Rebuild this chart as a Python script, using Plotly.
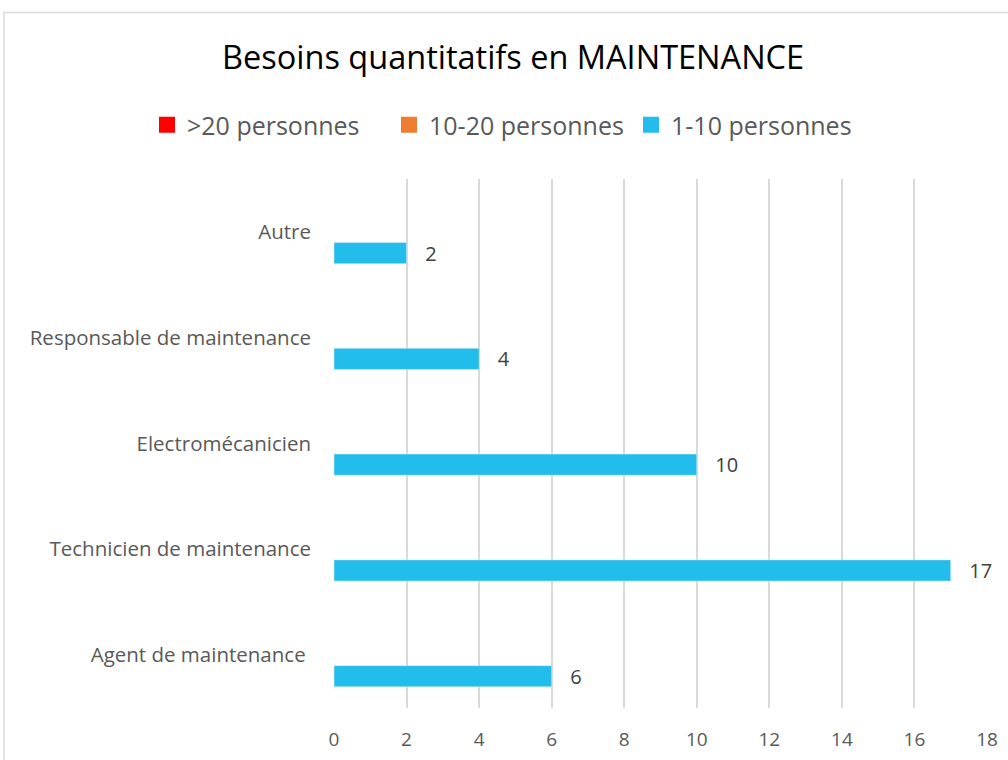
import plotly.graph_objects as go

categories = ["Agent de maintenance ", "Technicien de maintenance", "Electromécanicien",
              "Responsable de maintenance", "Autre"]
series_names = [">20 personnes", "10-20 personnes", "1-10 personnes"]
series_colors = ["#FF0000", "#ED7D31", "#22BDEA"]
v_over20 = [None, None, None, None, None]
v_10_20 = [None, None, None, None, None]
v_1_10 = [6, 17, 10, 4, 2]
x_ticks = [0, 2, 4, 6, 8, 10, 12, 14, 16, 18]

FONT = "Open Sans"
fig = go.Figure()
# Plotly stacks horizontal groups bottom-to-top, so add in reverse order
fig.add_trace(go.Bar(y=categories, x=v_1_10, name=series_names[2], orientation="h",
                     marker_color=series_colors[2], text=v_1_10, textposition="outside",
                     texttemplate="   %{x}", constraintext="none", showlegend=False,
                     textfont=dict(family=FONT, size=20, color="#404040"), cliponaxis=False))
fig.add_trace(go.Bar(y=categories, x=v_10_20, name=series_names[1], orientation="h",
                     marker_color=series_colors[1], showlegend=False))
fig.add_trace(go.Bar(y=categories, x=v_over20, name=series_names[0], orientation="h",
                     marker_color=series_colors[0], showlegend=False))
# legend entries (square swatches)
for name, col in zip(series_names, series_colors):
    fig.add_trace(go.Scatter(x=[None], y=[None], mode="markers", name=name,
                             marker=dict(symbol="square", size=16, color=col),
                             showlegend=True, hoverinfo="skip"))

PL, PW, PT, PH = 334, 653, 179, 529
fig.update_layout(
    width=1008, height=760,
    paper_bgcolor="white", plot_bgcolor="white",
    barmode="group", bargap=0.4, bargroupgap=0,
    margin=dict(l=PL, r=21, t=PT, b=52, autoexpand=False),
    title=dict(text="Besoins quantitatifs en MAINTENANCE", x=0.509, xanchor="center",
               y=1 - 58 / 760, yanchor="middle",
               font=dict(family=FONT, size=32.5, color="#000000")),
    legend=dict(orientation="h", traceorder="normal",
                x=(147 - PL) / PW, xanchor="left",
                y=1 + (PT - 125) / PH, yanchor="middle",
                font=dict(family=FONT, size=25, color="#595959"),
                itemwidth=30, entrywidth=197, bgcolor="rgba(0,0,0,0)"),
    showlegend=True,
    xaxis=dict(range=[0, 18], tickvals=x_ticks, showgrid=True, gridcolor="#D9D9D9",
               gridwidth=1.5, zeroline=False, showline=False,
               ticks="outside", ticklen=0, ticklabelstandoff=14,
               tickfont=dict(family=FONT, size=19, color="#595959")),
    yaxis=dict(range=[-0.5, 4.5], showgrid=False, zeroline=False, showline=False,
               ticks="", ticklabelstandoff=22,
               tickfont=dict(family=FONT, size=20.5, color="#595959")),
    shapes=[dict(type="rect", xref="paper", yref="paper",
                 x0=(4 - PL) / PW, x1=(1015 - PL) / PW,
                 y0=(PT + PH - 770) / PH, y1=(PT + PH - 12.5) / PH,
                 line=dict(color="#D9D9D9", width=1.5), fillcolor="rgba(0,0,0,0)",
                 layer="below")],
)

fig.write_html("out.html", config={"displayModeBar": False},
               post_script="document.body.style.margin='0';")
